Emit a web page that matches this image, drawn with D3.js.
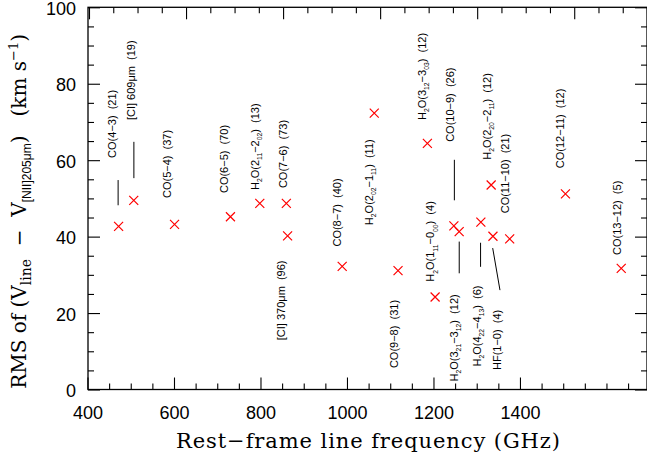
<!DOCTYPE html>
<html>
<head>
<meta charset="utf-8">
<script src="https://cdn.jsdelivr.net/npm/d3@7/dist/d3.min.js"></script>
<style>
  body { margin: 0; background: #fff; }
  text { white-space: pre; }
</style>
</head>
<body>
<div id="chart"></div>
<script>
// line names (_{..} = subscript), rest frequency in GHz, RMS in km/s, number of spectra
const names = ["CO(4−3)", "[CI] 609μm", "CO(5−4)", "CO(6−5)", "H_2O(2_{11}−2_{02})", "CO(7−6)",
  "[CI] 370μm", "CO(8−7)", "H_2O(2_{02}−1_{11})", "CO(9−8)", "H_2O(3_{12}−3_{03})", "H_2O(1_{11}−0_{00})",
  "CO(10−9)", "H_2O(3_{21}−3_{12})", "H_2O(4_{22}−4_{13})", "H_2O(2_{20}−2_{11})", "HF(1−0)",
  "CO(11−10)", "CO(12−11)", "CO(13−12)"];
const freq = [461.0, 492.2, 576.3, 691.5, 752.0, 806.7, 809.3, 921.8, 987.9, 1036.9, 1097.4, 1113.3,
  1152.0, 1162.9, 1207.6, 1228.8, 1232.5, 1267.0, 1381.9, 1496.9];
const rms = [42.7, 49.5, 43.2, 45.2, 48.7, 48.7, 40.2, 32.2, 72.3, 31.1, 64.4, 24.2,
  42.8, 41.3, 43.8, 53.5, 40.1, 39.4, 51.2, 31.7];
const nSpec = [21, 19, 37, 70, 13, 73, 96, 40, 11, 31, 12, 4, 26, 12, 6, 12, 4, 21, 12, 5];

// where each label starts (centre frequency, bottom RMS value)
const labelF = [456, 495, 570, 686, 750, 809, 803, 920, 985, 1036, 1095, 1112,
  1153, 1160, 1207, 1229, 1249, 1266, 1379, 1496];
const labelY = [60.6, 70.5, 50.1, 51.4, 52.2, 52.7, 12.9, 37.4, 43.0, 5.6, 70.5, 28.2,
  64.8, 2.1, 6.0, 60.1, 5.1, 46.1, 57.9, 35.2];

// leader lines from label to point
const leadF1 = [460, 492.5, 1153, 1163, 1207, 1232];
const leadY1 = [54.8, 64.8, 60.1, 38.7, 38.4, 37.0];
const leadF2 = [460, 492.5, 1153, 1163, 1207, 1247];
const leadY2 = [48.2, 55.3, 49.5, 30.4, 32.1, 26.0];

const xMajor = [400, 600, 800, 1000, 1200, 1400, 1600];
const yMajor = [0, 20, 40, 60, 80, 100];

/** CONSTANTS */
const width = 647, height = 460;
const margin = { left: 88, right: 647, top: 7.3, bottom: 389.5 };

/** SCALES */
// points and the top axis
const x = d3.scaleLinear().domain([400, 1550]).range([89, margin.right]);
// the labelled bottom axis is drawn on a slightly compressed scale
const xb = d3.scaleLinear().domain([400, 1700]).range([87.5, 649.7]);
const y = d3.scaleLinear().domain([0, 100]).range([margin.bottom, margin.top]);

const svg = d3.select("#chart").append("svg")
  .attr("width", width)
  .attr("height", height);

// frame
svg.append("rect")
  .attr("x", margin.left).attr("y", margin.top)
  .attr("width", margin.right - margin.left).attr("height", margin.bottom - margin.top)
  .attr("fill", "none").attr("stroke", "#000").attr("stroke-width", 1.3);

// axes: major + minor ticks pointing inward
const xMinor = d3.range(400, 1701, 50).filter(v => v % 200 !== 0);
const yMinor = d3.range(0, 101, 5).filter(v => v % 20 !== 0);

function styleAxis(g) {
  g.select(".domain").remove();
  g.selectAll("line").attr("stroke", "#000").attr("stroke-width", 1.1);
  g.selectAll("text").attr("font-family", "'Liberation Sans', Arial, sans-serif")
    .attr("font-size", 18).attr("fill", "#000");
}

svg.append("g").attr("transform", `translate(0,${margin.bottom})`)
  .call(d3.axisBottom(xb).tickValues(xMajor.filter(v => v <= 1400)).tickSizeInner(-12).tickSizeOuter(0).tickPadding(17).tickFormat(d3.format("d")))
  .call(styleAxis);
svg.append("g").attr("transform", `translate(0,${margin.bottom})`)
  .call(d3.axisBottom(xb).tickValues(xMinor.concat([1600])).tickSizeInner(-6).tickSizeOuter(0).tickFormat(""))
  .call(styleAxis);
svg.append("g").attr("transform", `translate(0,${margin.top})`)
  .call(d3.axisTop(x).tickValues(xMajor.filter(v => v <= 1550)).tickSizeInner(-12).tickSizeOuter(0).tickFormat(""))
  .call(styleAxis);
svg.append("g").attr("transform", `translate(0,${margin.top})`)
  .call(d3.axisTop(x).tickValues(xMinor.filter(v => v <= 1550)).tickSizeInner(-6).tickSizeOuter(0).tickFormat(""))
  .call(styleAxis);

const yAx = svg.append("g").attr("transform", `translate(${margin.left},0)`)
  .call(d3.axisLeft(y).tickValues(yMajor).tickSizeInner(-12).tickSizeOuter(0).tickPadding(12))
  .call(styleAxis);
yAx.selectAll("text").attr("dy", "0.4em");
svg.append("g").attr("transform", `translate(${margin.left},0)`)
  .call(d3.axisLeft(y).tickValues(yMinor).tickSizeInner(-6).tickSizeOuter(0).tickFormat(""))
  .call(styleAxis);
svg.append("g").attr("transform", `translate(${margin.right},0)`)
  .call(d3.axisRight(y).tickValues(yMajor).tickSizeInner(-12).tickSizeOuter(0).tickFormat(""))
  .call(styleAxis);
svg.append("g").attr("transform", `translate(${margin.right},0)`)
  .call(d3.axisRight(y).tickValues(yMinor).tickSizeInner(-6).tickSizeOuter(0).tickFormat(""))
  .call(styleAxis);

// axis titles
const serif = "'DejaVu Serif', 'Liberation Serif', serif";
svg.append("text")
  .attr("x", 368).attr("y", 448)
  .attr("text-anchor", "middle")
  .attr("font-family", serif).attr("font-size", 21)
  .attr("textLength", 384).attr("lengthAdjust", "spacing")
  .text("Rest−frame line frequency (GHz)");

const yt = svg.append("text")
  .attr("transform", `translate(26,${(margin.top + margin.bottom) / 2 + 13}) rotate(-90)`)
  .attr("text-anchor", "middle")
  .attr("font-family", serif).attr("font-size", 20);
yt.append("tspan").text("RMS of (V");
yt.append("tspan").attr("font-size", 14).attr("dy", 5).text("line");
yt.append("tspan").attr("dy", -5).text("  −  V");
yt.append("tspan").attr("font-size", 12).attr("dy", 5)
  .attr("font-family", "'Liberation Sans', Arial, sans-serif").text("[NII]205μm");
yt.append("tspan").attr("dy", -5).text(")   (km s");
yt.append("tspan").attr("font-size", 13).attr("dy", -8).text("−1");
yt.append("tspan").attr("dy", 8).text(")");

// leader lines
svg.selectAll("line.lead")
  .data(leadF1)
  .join("line")
  .attr("class", "lead")
  .attr("x1", (d, i) => x(d)).attr("y1", (d, i) => y(leadY1[i]))
  .attr("x2", (d, i) => x(leadF2[i])).attr("y2", (d, i) => y(leadY2[i]))
  .attr("stroke", "#000").attr("stroke-width", 1);

// points as red crosses
const s = 4.5;
svg.selectAll("path.pt")
  .data(freq)
  .join("path")
  .attr("class", "pt")
  .attr("d", (d, i) => {
    const px = x(d), py = y(rms[i]);
    return `M${px - s},${py - s}L${px + s},${py + s}M${px - s},${py + s}L${px + s},${py - s}`;
  })
  .attr("stroke", "#ff0000").attr("stroke-width", 1.2).attr("fill", "none");

// rotated line labels with subscripts
function addRich(textSel, str, size) {
  const re = /_\{([^}]*)\}|_(.)|([^_]+)/g;
  let m, shifted = false;
  while ((m = re.exec(str)) !== null) {
    const sub = m[1] !== undefined ? m[1] : m[2];
    if (sub !== undefined) {
      textSel.append("tspan").attr("font-size", size * 0.62).attr("dy", shifted ? 0 : size * 0.28).text(sub);
      shifted = true;
    } else {
      textSel.append("tspan").attr("dy", shifted ? -size * 0.28 : 0).text(m[3]);
      shifted = false;
    }
  }
}

const labelSize = 11;
names.forEach((nm, i) => {
  const t = svg.append("text")
    .attr("transform", `translate(${x(labelF[i])},${y(labelY[i])}) rotate(-90)`)
    .attr("font-family", "'Liberation Sans', Arial, sans-serif")
    .attr("font-size", labelSize)
    .attr("fill", "#000");
  const inner = t.append("tspan").attr("dy", "0.36em");
  addRich(inner, nm + "  (" + nSpec[i] + ")", labelSize);
});
</script>
</body>
</html>
